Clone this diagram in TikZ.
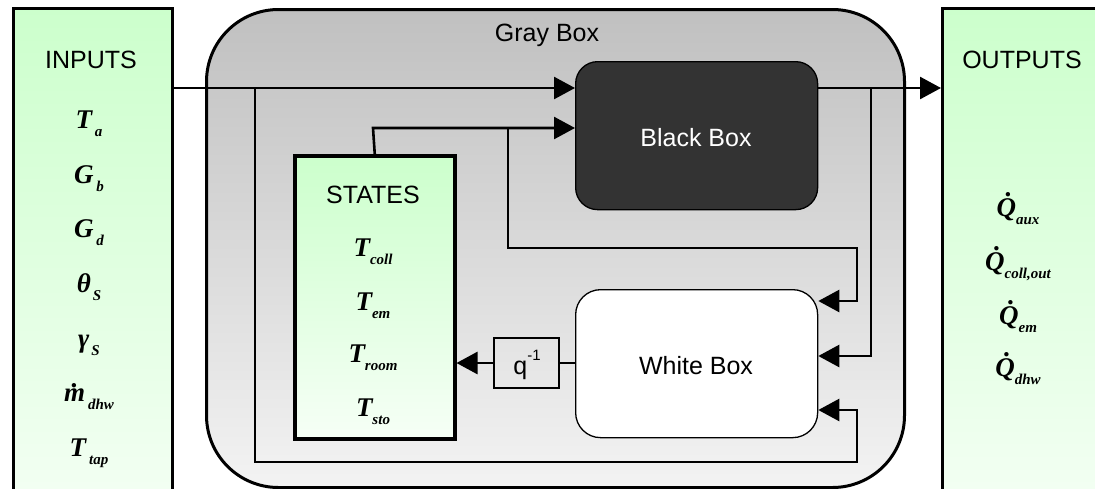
\documentclass[tikz,border=0pt]{standalone}
\usepackage{fontspec}
\setmainfont{Liberation Sans}
\newfontfamily\tms{Liberation Serif}
\usetikzlibrary{arrows.meta}

\definecolor{greentop}{RGB}{204,255,204}
\definecolor{greenbot}{RGB}{246,255,246}
\definecolor{graytop}{RGB}{192,192,192}
\definecolor{graybot}{RGB}{243,243,243}
\definecolor{darkcore}{RGB}{51,51,51}

% variable with subscript, bold italic serif
\newcommand\var[3][0pt]{{\tms\bfseries\itshape #2\kern#1\raisebox{-0.3em}{\fontsize{15}{15}\selectfont #3}}}
% dot accent placed over a glyph
\newcommand\dotover[3]{\makebox[0pt][l]{\hspace{#2}\raisebox{#3}{.}}#1}

\tikzset{
  panel/.style={draw, line width=3pt, top color=greentop, bottom color=greenbot,
    inner sep=0pt, anchor=north west},
  core/.style={draw, line width=1.3pt, inner sep=0pt, anchor=north west},
  wire/.style={line width=2.6pt, line join=miter},
  arr/.style={wire, -{Triangle[length=21pt,width=22pt]}},
  head/.style={font=\fontsize{25}{25}\selectfont, anchor=base, inner sep=0pt},
  mvar/.style={font=\fontsize{27}{27}\selectfont, anchor=base, inner sep=0pt},
}

\begin{document}
\begin{tikzpicture}[x=1pt,y=-1pt]
\useasboundingbox (0,0) rectangle (1095,488);
\clip (0,0) rectangle (1095,488);

% outer panels
\node[panel, minimum width=159, minimum height=530] (inputs) at (12,7) {};
\node[panel, minimum width=170, minimum height=530] (outputs) at (941,7) {};

% gray box
\node[core, line width=3pt, rounded corners=72pt, top color=graytop, bottom color=graybot,
  minimum width=698, minimum height=478] (gray) at (205,8) {};
\node[head] (graylabel) at (547,41) {Gray Box};

% black and white boxes
\node[core, rounded corners=22pt, fill=darkcore, minimum width=242, minimum height=148] (bb) at (575,61) {};
\node[head, text=white] (bblabel) at (696,146) {Black Box};
\node[core, rounded corners=25pt, fill=white, minimum width=242, minimum height=148] (wb) at (575,289) {};
\node[head] (wblabel) at (696,374) {White Box};

% states
\node[panel, line width=3.5pt, minimum width=160, minimum height=283] (states) at (293,154) {};
\node[head] (stateslabel) at (373,203) {STATES};
\node[mvar] (s1) at (373,256) {\var{T}{coll}};
\node[mvar] (s2) at (373,310) {\var{T}{em}};
\node[mvar] (s3) at (373,362) {\var{T}{room}};
\node[mvar] (s4) at (373,416) {\var{T}{sto}};

% unit delay
\node[draw, line width=1.2pt, minimum width=65, minimum height=50, inner sep=0pt] (q) at (526.5,363) {};
\node[head] (qlabel) at (527,374) {q\raisebox{0.55em}{\fontsize{15}{15}\selectfont -1}};

% input labels
\node[head] (inlabel) at (91,68) {INPUTS};
\node[mvar] (i1) at (89,128) {\var[3pt]{T}{a}};
\node[mvar] (i2) at (89,183) {\var[3pt]{G}{b}};
\node[mvar] (i3) at (89,237) {\var[3pt]{G}{d}};
\node[mvar] (i4) at (89,292) {\var[2pt]{θ}{S}};
\node[mvar] (i5) at (89,347) {\var[2pt]{γ}{S}};
\node[mvar] (i6) at (89,401) {\var[3pt]{\dotover{m}{0.28em}{0.5em}}{dhw}};
\node[mvar] (i7) at (89,456) {\var[3pt]{T}{tap}};

% output labels
\node[head] (outlabel) at (1022,68) {OUTPUTS};
\node[mvar] (o1) at (1018,216) {\var{\dotover{Q}{0.33em}{0.72em}}{aux}};
\node[mvar] (o2) at (1018,270) {\var{\dotover{Q}{0.33em}{0.72em}}{coll,out}};
\node[mvar] (o3) at (1018,324) {\var{\dotover{Q}{0.33em}{0.72em}}{em}};
\node[mvar] (o4) at (1018,376) {\var{\dotover{Q}{0.33em}{0.72em}}{dhw}};

% junction points of the wiring
\coordinate (jin) at (255,88);
\coordinate (jst) at (373,128);
\coordinate (jfb) at (508,128);
\coordinate (jout) at (871,88);

% main signal path
\draw[arr] (inputs.east |- jin) -- (bb.west |- jin);
\draw[arr] (bb.east |- jin) -- (outputs.west |- jin);
% inputs to white box
\draw[arr] (jin) -- (255,462) -- (857,462) -- (857,410) -- (wb.east |- 0,410);
% states to black box and white box
\draw[arr] (states.north) -- (jst) -- (bb.west |- jst);
\draw[arr] (jfb) -- (508,248) -- (857,248) -- (857,301) -- (wb.east |- 0,301);
% outputs fed back to white box
\draw[arr] (jout) -- (871,356) -- (wb.east |- 0,356);
% white box through delay to states
\draw[wire] (wb.west |- q) -- (q.east);
\draw[arr] (q.west) -- (states.east |- q);
\end{tikzpicture}
\end{document}
